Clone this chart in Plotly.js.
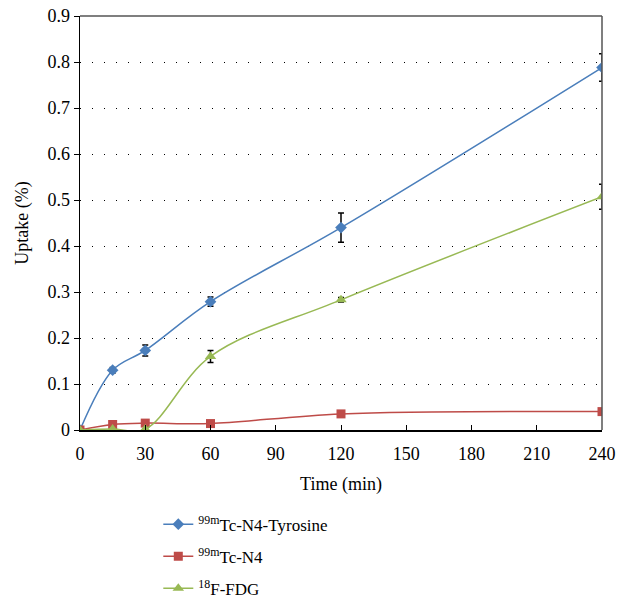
<!DOCTYPE html>
<html>
<head>
<meta charset="utf-8">
<script src="https://cdn.plot.ly/plotly-3.0.1.min.js"></script>
<style>html,body{margin:0;padding:0;background:#fff;}#chart{width:619px;height:598px;}</style>
</head>
<body>
<div id="chart"></div>
<script>
const timeMin = [0, 15, 30, 60, 120, 240];
const tyrosine = [0, 0.13, 0.173, 0.279, 0.44, 0.788];
const tyrosineErr = [0.003, 0.006, 0.012, 0.01, 0.032, 0.03];
const n4 = [0, 0.012, 0.015, 0.014, 0.035, 0.04];
const n4Err = [0, 0, 0, 0, 0, 0];
const fdg = [0, 0.002, 0.002, 0.16, 0.283, 0.507];
const fdgErr = [0, 0, 0, 0.013, 0.005, 0.027];
const seriesNames = ['<sup>99m</sup>Tc-N4-Tyrosine', '<sup>99m</sup>Tc-N4', '<sup>18</sup>F-FDG'];
const xTicks = [0, 30, 60, 90, 120, 150, 180, 210, 240];
const yTicks = [0, 0.1, 0.2, 0.3, 0.4, 0.5, 0.6, 0.7, 0.8, 0.9];

const font = 'Liberation Serif';
function tr(y, err, name, color, sym, size, grp) {
  return {
    x: timeMin, y: y, name: name, type: 'scatter', mode: 'lines+markers', legendgroup: grp,
    line: {color: color, width: 1.5, shape: 'spline', smoothing: 1},
    marker: {color: color, symbol: sym, size: size},
    error_y: {type: 'data', array: err, visible: true, color: '#000', thickness: 1.5, width: 3}
  };
}
const data = [
  tr(tyrosine, tyrosineErr, seriesNames[0], '#4a7ebb', 'diamond', 9, 'a'),
  tr(n4, n4Err, seriesNames[1], '#be4b48', 'square', 9, 'b'),
  tr(fdg, fdgErr, seriesNames[2], '#98b954', 'triangle-up', 10, 'c')
];
const layout = {
  width: 619, height: 598,
  margin: {l: 80, r: 17, t: 16, b: 168, autoexpand: false},
  paper_bgcolor: '#fff', plot_bgcolor: '#fff',
  font: {family: font, size: 18, color: '#000'},
  showlegend: true,
  legend: {x: 0.15, y: -0.185, xanchor: 'left', yanchor: 'top', font: {family: font, size: 17}, tracegroupgap: 7, bgcolor: 'rgba(0,0,0,0)'},
  xaxis: {
    range: [0, 240], tickvals: xTicks, ticktext: xTicks.map(String),
    showline: true, linecolor: '#000', linewidth: 1.5, ticks: 'inside', ticklen: 5, tickcolor: '#000',
    tickfont: {family: font, size: 18}, ticklabelstandoff: 7,
    showgrid: false, zeroline: false,
    title: {text: 'Time (min)', font: {family: font, size: 18}, standoff: 14}
  },
  yaxis: {
    range: [0, 0.9], tickvals: yTicks, ticktext: yTicks.map(v => v === 0 ? '0' : v.toFixed(1)),
    showline: true, linecolor: '#000', linewidth: 1.5, ticks: 'outside', ticklen: 5, tickcolor: '#000',
    tickfont: {family: font, size: 18},
    showgrid: true, gridcolor: '#000', gridwidth: 1, griddash: '1px,11px', zeroline: false,
    title: {text: 'Uptake (%)', font: {family: font, size: 18}, standoff: 14}
  },
  shapes: [
    {type: 'line', xref: 'paper', yref: 'paper', x0: 0, x1: 1, y0: 1, y1: 1, line: {color: '#555', width: 1.5}},
    {type: 'line', xref: 'paper', yref: 'paper', x0: 1, x1: 1, y0: 0, y1: 1, line: {color: '#555', width: 1.5}}
  ]
};
Plotly.newPlot('chart', data, layout, {displayModeBar: false, staticPlot: true});
</script>
</body>
</html>
